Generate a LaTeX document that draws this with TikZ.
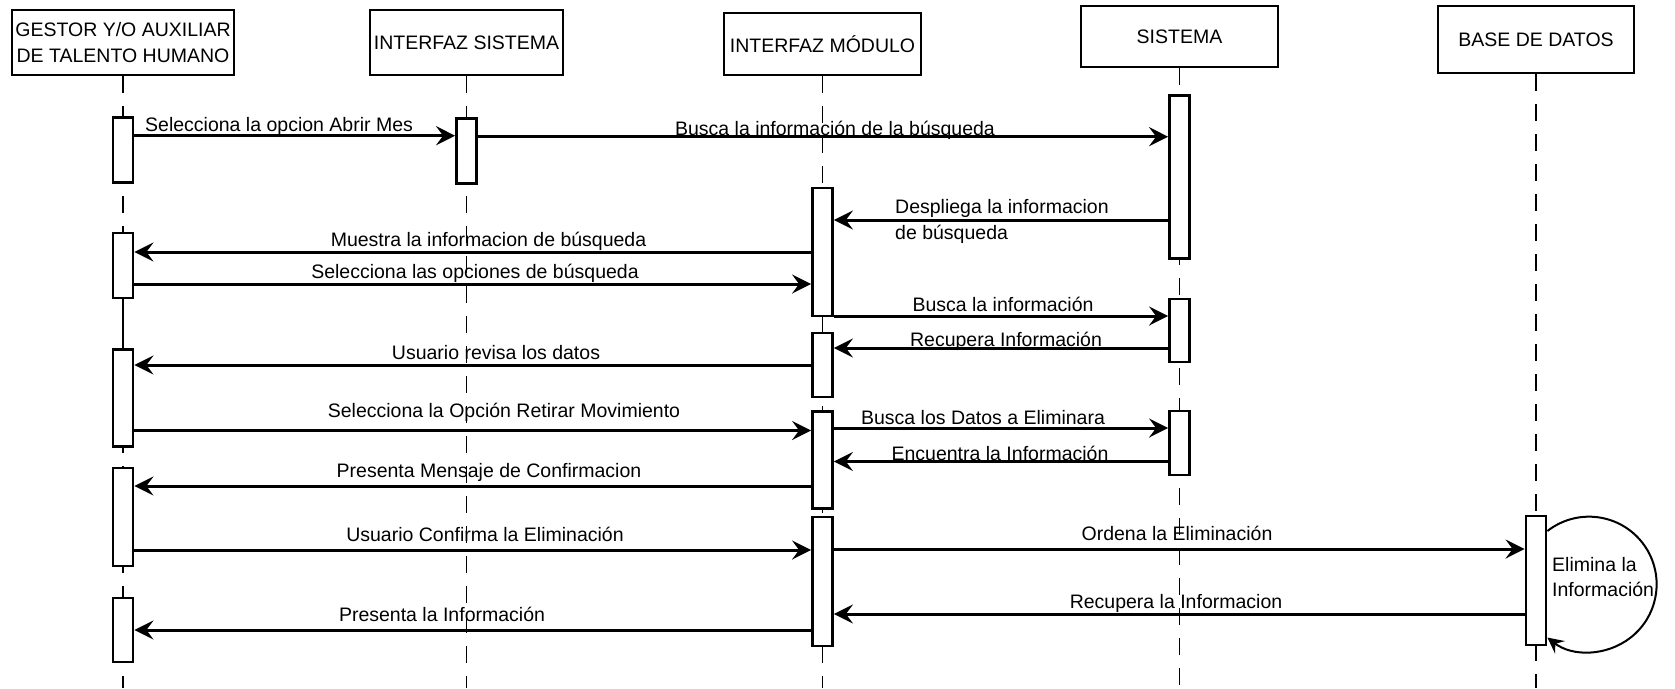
\documentclass[tikz,border=0pt]{standalone}
\usepackage{fontspec}
\setmainfont{Liberation Sans}
\usetikzlibrary{arrows.meta}
\begin{document}
\begin{tikzpicture}[x=1pt,y=-1pt,
  hdr/.style={draw, line width=2.8pt, fill=white, inner sep=0pt, align=center, font=\fontsize{19.5}{26}\selectfont},
  act/.style={draw, line width=2.8pt, fill=white, minimum width=20pt, inner sep=0pt},
  life/.style={line width=1.4pt, dash pattern=on 17pt off 13pt},
  msg/.style={line width=3pt, -{Stealth[length=19pt,width=19pt,inset=7pt]}},
  selfloop/.style={line width=2pt, -{Stealth[length=16pt,width=16pt,inset=6pt]}},
  lbl/.style={inner sep=0pt, anchor=base, font=\fontsize{19.5}{24}\selectfont},
  lbll/.style={inner sep=0pt, anchor=base west, font=\fontsize{19.5}{24}\selectfont},
]
\useasboundingbox[fill=white] (0,0) rectangle (1675,688);

% headers
\node[hdr, minimum width=222pt, minimum height=65pt] (h1) at (123,42.5) {GESTOR Y/O AUXILIAR\\DE TALENTO HUMANO};
\node[hdr, minimum width=193pt, minimum height=65pt] (h2) at (466.5,42.5) {INTERFAZ SISTEMA};
\node[hdr, minimum width=197pt, minimum height=62pt] (h3) at (822.5,44) {INTERFAZ MÓDULO};
\node[hdr, minimum width=197pt, minimum height=61pt] (h4) at (1179.5,36.5) {SISTEMA};
\node[hdr, minimum width=196pt, minimum height=67pt] (h5) at (1536,39.5) {BASE DE DATOS};

% lifelines
\foreach \h in {h1,h2,h3,h4,h5}{
  \coordinate (\h end) at (\h.south |- 0,688);
  \draw[life] (\h.south) -- (\h end);
}

% activations
\node[act, minimum height=65pt] (a1) at (h1 |- 0,150) {};
\node[act, minimum height=65pt] (a2) at (h2 |- 0,151) {};
\node[act, minimum height=162.5pt] (a3) at (h4 |- 0,177) {};
\node[act, minimum height=128pt] (a4) at (h3 |- 0,252) {};
\node[act, minimum height=65pt] (a5) at (h1 |- 0,265.5) {};
\node[act, minimum height=63pt] (a6) at (h4 |- 0,330.5) {};
\node[act, minimum height=64pt] (a7) at (h3 |- 0,365) {};
\node[act, minimum height=97.5pt] (a8) at (h1 |- 0,398) {};
\node[act, minimum height=96.5pt] (a9) at (h3 |- 0,460) {};
\node[act, minimum height=64pt] (a10) at (h4 |- 0,443) {};
\node[act, minimum height=98pt] (a11) at (h1 |- 0,517) {};
\node[act, minimum height=129pt] (a12) at (h3 |- 0,581.5) {};
\node[act, minimum height=64pt] (a13) at (h1 |- 0,630) {};
\node[act, minimum height=129pt] (a14) at (h5 |- 0,580.5) {};

\draw[line width=1.4pt] (a5.south) -- (a8.north);

% messages
\draw[msg] (a1.east |- 0,135.7) -- (a2.west |- 0,135.7);
\node[lbll] (t1) at (145,131) {Selecciona la opcion Abrir Mes};
\draw[msg] (a2.east |- 0,136.7) -- (a3.west |- 0,136.7);
\node[lbl] (t2) at (835,135) {Busca la información de la búsqueda};
\draw[msg] (a3.west |- 0,220) -- (a4.east |- 0,220);
\node[lbll] (t3a) at (895,213) {Despliega la informacion};
\node[lbll] (t3b) at (895,239) {de búsqueda};
\draw[msg] (a4.west |- 0,252) -- (a5.east |- 0,252);
\node[lbl] (t4) at (488.5,246) {Muestra la informacion de búsqueda};
\draw[msg] (a5.east |- 0,284) -- (a4.west |- 0,284);
\node[lbl] (t5) at (475,278) {Selecciona las opciones de búsqueda};
\draw[msg] (a4.east |- 0,316) -- (a6.west |- 0,316);
\node[lbl] (t6) at (1003,311) {Busca la información};
\draw[msg] (a6.west |- 0,348) -- (a7.east |- 0,348);
\node[lbl] (t7) at (1006,346) {Recupera Información};
\draw[msg] (a7.west |- 0,365) -- (a8.east |- 0,365);
\node[lbl] (t8) at (496,359.5) {Usuario revisa los datos};
\draw[msg] (a8.east |- 0,430.5) -- (a9.west |- 0,430.5);
\node[lbl] (t9) at (504,417) {Selecciona la Opción Retirar Movimiento};
\draw[msg] (a9.east |- 0,428) -- (a10.west |- 0,428);
\node[lbl] (t10) at (983,424) {Busca los Datos a Eliminara};
\draw[msg] (a10.west |- 0,461.5) -- (a9.east |- 0,461.5);
\node[lbl] (t11) at (1000,460) {Encuentra la Información};
\draw[msg] (a9.west |- 0,486) -- (a11.east |- 0,486);
\node[lbl] (t12) at (489,477) {Presenta Mensaje de Confirmacion};
\draw[msg] (a11.east |- 0,550) -- (a12.west |- 0,550);
\node[lbl] (t13) at (485,541) {Usuario Confirma la Eliminación};
\draw[msg] (a12.east |- 0,549) -- (a14.west |- 0,549);
\node[lbl] (t14) at (1177,540) {Ordena la Eliminación};
\draw[msg] (a14.west |- 0,614) -- (a12.east |- 0,614);
\node[lbl] (t15) at (1176,608) {Recupera la Informacion};
\draw[msg] (a12.west |- 0,630) -- (a13.east |- 0,630);
\node[lbl] (t16) at (442,621) {Presenta la Información};

% self loop
\coordinate (ls) at (a14.east |- 0,531);
\draw[selfloop] (ls) arc[start angle=128, end angle=-128, radius=67.6pt];
\node[lbll] (t17a) at (1552,571) {Elimina la};
\node[lbll] (t17b) at (1552,596) {Información};
\end{tikzpicture}
\end{document}
